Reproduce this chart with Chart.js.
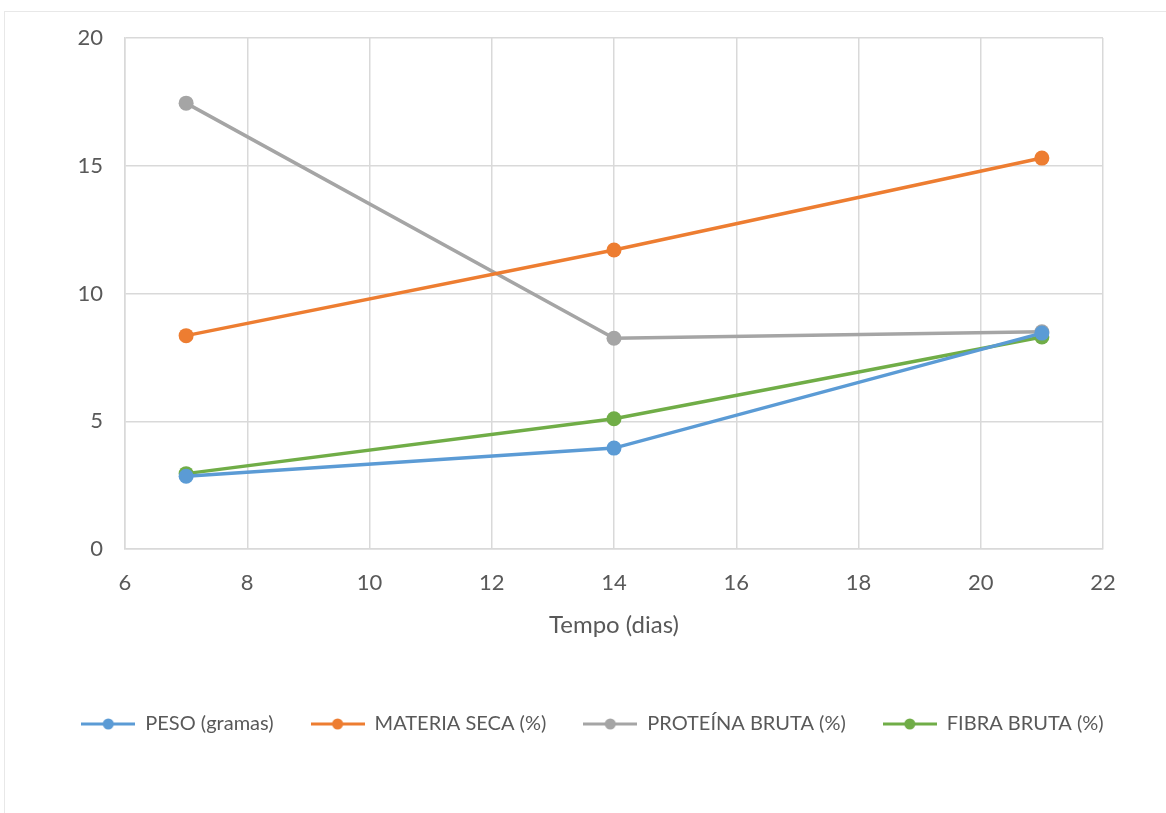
<!DOCTYPE html>
<html>
<head>
<meta charset="utf-8">
<script src="https://cdn.jsdelivr.net/npm/chart.js@4.4.0/dist/chart.umd.min.js"></script>
<style>
html, body { margin: 0; padding: 0; background: #fff; overflow: hidden; }
#frame { position: absolute; left: 4px; top: 11px; width: 1200px; height: 900px; border: 1px solid #e8e8e8; }
#wrap { position: absolute; left: 0; top: 0; width: 1166px; height: 813px; }
</style>
</head>
<body>
<div id="frame"></div>
<div id="wrap"><canvas id="chart1"></canvas></div>
<script>
// data
const days = [7, 14, 21];
const peso = [2.85, 3.95, 8.45];
const materiaSeca = [8.35, 11.7, 15.3];
const proteinaBruta = [17.45, 8.25, 8.5];
const fibraBruta = [2.95, 5.1, 8.3];

const seriesNames = ['PESO (gramas)', 'MATERIA SECA (%)', 'PROTEÍNA BRUTA (%)', 'FIBRA BRUTA (%)'];
const seriesColors = ['#5b9bd5', '#ed7d31', '#a5a5a5', '#70ad47'];
const xTicks = [6, 8, 10, 12, 14, 16, 18, 20, 22];
const yTicks = [0, 5, 10, 15, 20];
const xTitle = 'Tempo (dias)';

const FONT = "Lato, 'Open Sans', sans-serif";
const TXT = '#595959';
const GRID = '#d9d9d9';

// little line + dot icons for the legend
function legendIcon(color) {
	const c = document.createElement('canvas');
	c.width = 54;
	c.height = 14;
	const g = c.getContext('2d');
	g.strokeStyle = color;
	g.lineWidth = 3;
	g.beginPath();
	g.moveTo(0, 7);
	g.lineTo(54, 7);
	g.stroke();
	g.fillStyle = color;
	g.beginPath();
	g.arc(27, 7, 5.5, 0, Math.PI * 2);
	g.fill();
	return c;
}
const legendIcons = seriesColors.map(legendIcon);

function toPoints(vals) {
	return days.map((d, i) => ({ x: d, y: vals[i] }));
}

const allSeries = [peso, materiaSeca, proteinaBruta, fibraBruta];

const ds = {
	datasets: allSeries.map((vals, i) => ({
		label: seriesNames[i],
		data: toPoints(vals),
		borderColor: seriesColors[i],
		backgroundColor: seriesColors[i],
		borderWidth: 3.5,
		pointRadius: 7.5,
		pointBorderWidth: 0,
		pointHoverRadius: 7.5,
		showLine: true,
		tension: 0
	}))
};

const options = {
	responsive: true,
	maintainAspectRatio: false,
	animation: false,
	layout: {
		padding: { top: 38, right: 21, left: 40, bottom: 69 }
	},
	plugins: {
		tooltip: { enabled: false },
		legend: {
			position: 'bottom',
			labels: {
				usePointStyle: true,
				pointStyleWidth: 54,
				padding: 37,
				color: TXT,
				font: { family: FONT, size: 20 },
				generateLabels: chart => Chart.defaults.plugins.legend.labels.generateLabels(chart).map((item, i) => {
					item.pointStyle = legendIcons[i];
					return item;
				})
			}
		}
	},
	scales: {
		x: {
			type: 'linear',
			min: 6,
			max: 22,
			afterBuildTicks: s => { s.ticks = xTicks.map(v => ({ value: v })); },
			afterFit: s => { s.height = 128; },
			grid: { color: GRID, lineWidth: 1.5, drawTicks: false },
			border: { color: GRID, width: 1.5 },
			ticks: { padding: 21, color: TXT, font: { family: FONT, size: 22 } },
			title: {
				display: true,
				text: xTitle,
				color: TXT,
				font: { family: FONT, size: 24 },
				padding: { top: 4, bottom: 37 }
			}
		},
		y: {
			min: 0,
			max: 20,
			afterBuildTicks: s => { s.ticks = yTicks.map(v => ({ value: v })); },
			afterFit: s => { s.width = 85; },
			grid: { color: GRID, lineWidth: 1.5, drawTicks: false },
			border: { color: GRID, width: 1.5 },
			ticks: { padding: 22, color: TXT, font: { family: FONT, size: 22 } }
		},
		// empty spacer on the right so the legend row gets the full width
		yRight: {
			position: 'right',
			min: 0,
			max: 20,
			afterFit: s => { s.width = 42; },
			grid: { drawOnChartArea: false, drawTicks: false },
			border: { display: false },
			ticks: { display: false }
		}
	}
};

const ctx1 = document.getElementById('chart1').getContext('2d');
const myLineChart = new Chart(ctx1, {
	type: 'scatter',
	data: ds,
	options: options
});
</script>
</body>
</html>
